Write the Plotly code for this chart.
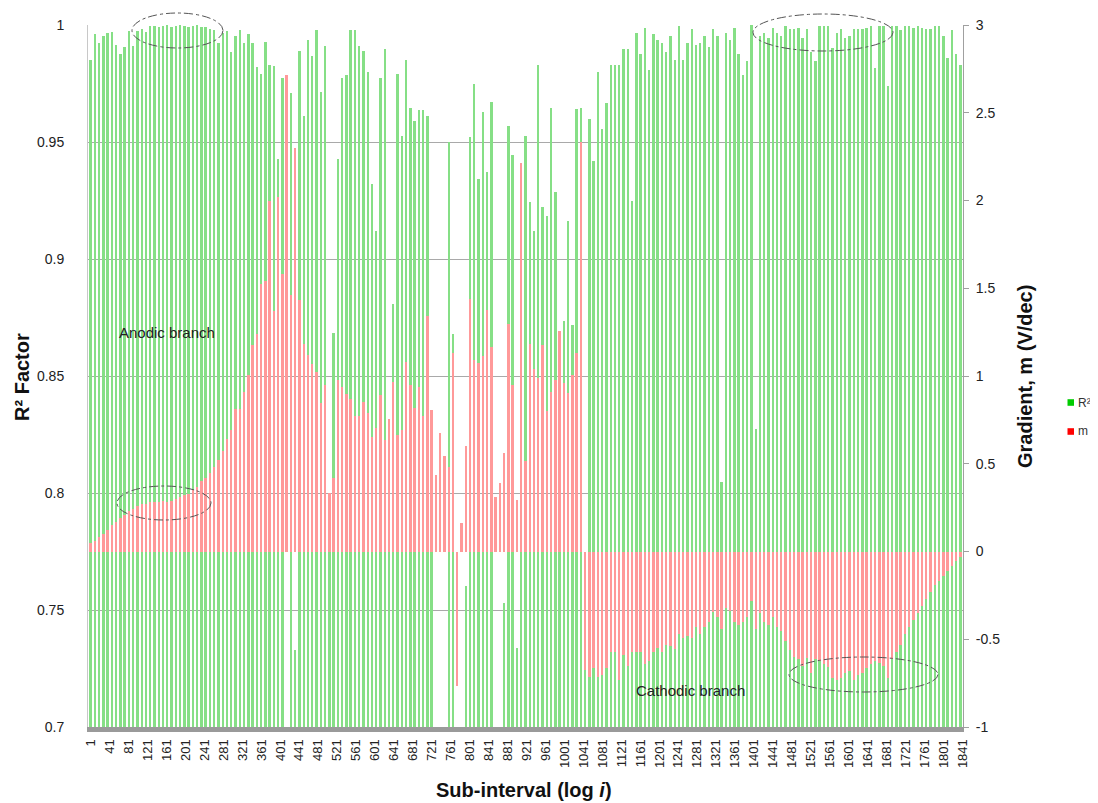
import plotly.graph_objects as go

# ---------------- data ----------------
sub_interval = list(range(1, 1838, 9))  # category positions (sub-interval index)

tick_labels = ["1", "41", "81", "121", "161", "201", "241", "281", "321", "361", "401",
               "441", "481", "521", "561", "601", "641", "681", "721", "761", "801",
               "841", "881", "921", "961", "1001", "1041", "1081", "1121", "1161",
               "1201", "1241", "1281", "1321", "1361", "1401", "1441", "1481", "1521",
               "1561", "1601", "1641", "1681", "1721", "1761", "1801", "1841"]

r2_values = [
    0.985, 0.996, 0.9925, 0.9955, 0.9965, 0.9968, 0.9915, 0.9876, 0.9905, 0.9974,
    0.9909, 0.9974, 0.9984, 0.997, 0.9994, 0.9994, 0.999, 0.9996, 0.9998, 0.9992,
    0.9996, 0.9998, 0.9994, 0.999, 0.9996, 0.9998, 0.9992, 0.999, 0.9985, 0.9978,
    0.9925, 0.9964, 0.9974, 0.9886, 0.9955, 0.998, 0.9921, 0.996, 0.9925, 0.9821,
    0.9792, 0.9928, 0.9827, 0.9823, 0.9429, 0.9773, None, 0.9711, 0.7331, 0.9889,
    0.9613, 0.9938, 0.9866, 0.9979, 0.9715, 0.9912, 0.79, 0.8685, 0.9429, 0.9773,
    0.9788, 0.9979, 0.9979, 0.9909, 0.9889, 0.9798, 0.9322, 0.9118, 0.9773, 0.9898,
    0.7768, 0.8807, 0.9792, 0.9526, 0.985, 0.9647, 0.959, 0.9637, 0.9637, 0.961,
    0.79, None, None, None, 0.9501, 0.8681, None, None, 0.7603, 0.9523,
    0.9746, 0.9341, 0.9629, 0.9371, 0.9672, None, None, 0.7529, 0.957, 0.9444,
    0.7337, 0.93, 0.9526, 0.9244, 0.9118, 0.9827, 0.9221, 0.9182, 0.9647, 0.9287,
    0.86, 0.8735, 0.9161, 0.8716, 0.9643, 0.9647, 0.7253, 0.9598, 0.9419, 0.9801,
    0.9555, 0.9665, 0.9827, 0.9827, 0.9827, 0.9896, 0.9896, 0.9249, 0.9964, 0.9876,
    0.9988, 0.9808, 0.996, 0.9935, 0.9925, 0.9886, 0.9954, 0.9851, 0.9994, 0.9851,
    0.9921, 0.9984, 0.9915, 0.9921, 0.9954, 0.9905, 0.9984, 0.9954, 0.8047, 0.9964,
    0.9935, 0.9988, 0.9876, 0.9788, 0.9847, 1.0, 0.8272, 0.9954, 0.9964, 0.9945,
    0.9988, 0.9964, 0.9954, 0.9994, 0.9984, 0.9984, 0.9988, 0.9945, 0.9984, 0.9886,
    0.9847, 0.9994, 0.9994, 0.9994, 0.9902, 0.9964, 0.9984, 0.9945, 0.9954, 0.9984,
    0.9984, 0.9984, 0.9988, 0.9994, 0.9817, 0.9994, 0.9994, 0.9739, 0.9994, 0.9994,
    0.998, 0.9994, 0.9994, 0.9988, 0.9994, 0.9988, 0.9984, 0.9984, 0.9994, 0.9994,
    0.9954, 0.9857, 0.998, 0.9876, 0.9831,
]

m_values = [
    0.05, 0.06, 0.08, 0.10, 0.12, 0.15, 0.17, 0.19, 0.21, 0.23,
    0.24, 0.26, 0.27, 0.27, 0.28, 0.28, 0.28, 0.29, 0.28, 0.29,
    0.30, 0.31, 0.32, 0.33, 0.35, 0.37, 0.40, 0.42, 0.45, 0.48,
    0.52, 0.57, 0.64, 0.69, 0.813, 0.813, 0.908, 1.005, 1.176, 1.242,
    1.523, 1.544, 2.0, 1.372, 2.018, 1.583, 2.714, 1.464, 2.30, 1.432,
    1.185, 1.12, 1.068, 1.023, 0.846, 0.95, 0.336, 0.417, 0.977, 0.935,
    0.898, 0.867, 0.773, 0.773, 0.852, 0.789, 0.651, 0.703, 0.893, 0.638,
    0.755, 0.964, 0.664, 0.695, 1.081, 0.951, 0.82, 0.9375, 0.773, 1.341,
    0.807, 0.435, 0.677, 0.547, 0.482, 1.133, -0.768, 0.161, 0.599, 1.44,
    1.094, 1.076, 1.112, 1.378, 1.164, 0.3125, 0.39, 0.56, 1.294, 0.951,
    0.292, 2.214, 0.513, 1.185, 1.042, 0.99, 1.177, 0.80, 0.911, 0.977,
    1.255, 0.958, 0.904, 1.003, 1.133, 2.331, -0.677, -0.716, -0.664, -0.716,
    -0.703, -0.664, -0.574, -0.574, -0.73, -0.587, -0.653, -0.574, -0.574, -0.574,
    -0.639, -0.626, -0.574, -0.547, -0.574, -0.534, -0.539, -0.555, -0.468, -0.495,
    -0.482, -0.495, -0.429, -0.468, -0.429, -0.403, -0.345, -0.376, -0.442, -0.324,
    -0.337, -0.403, -0.416, -0.403, -0.376, -0.284, -0.442, -0.35, -0.403, -0.416,
    -0.376, -0.429, -0.455, -0.508, -0.561, -0.6, -0.613, -0.653, -0.608, -0.692,
    -0.613, -0.626, -0.639, -0.66, -0.718, -0.732, -0.718, -0.692, -0.679, -0.732,
    -0.705, -0.692, -0.666, -0.639, -0.626, -0.634, -0.653, -0.718, -0.613, -0.574,
    -0.534, -0.468, -0.429, -0.389, -0.35, -0.31, -0.271, -0.232, -0.192, -0.166,
    -0.139, -0.113, -0.082, -0.055, -0.034,
]

r2_ticks = [0.7, 0.75, 0.8, 0.85, 0.9, 0.95, 1.0]
r2_ticktext = ["0.7", "0.75", "0.8", "0.85", "0.9", "0.95", "1"]
m_ticks = [-1, -0.5, 0, 0.5, 1, 1.5, 2, 2.5, 3]
m_ticktext = ["-1", "-0.5", "0", "0.5", "1", "1.5", "2", "2.5", "3"]

legend_names = ["R²", "m"]
legend_colors = ["#00cc00", "#ff0000"]

assert len(sub_interval) == len(r2_values) == len(m_values)

# ---------------- figure ----------------
FONT = "Liberation Sans, Arial, sans-serif"
GREEN_BAR = "#86df86"
RED_BAR = "#ff9999"

# page body has an 8px default margin, so the figure is 8px smaller and the
# plot area (88..963 x 25..727 on screen) is placed accordingly
PX0, PY1, PW, PH = 88, 727, 875, 702


def px(x):
    return (x - PX0) / PW


def py(y):
    return (PY1 - y) / PH


fig = go.Figure()
fig.add_trace(go.Bar(x=sub_interval, y=r2_values, width=4,
                     marker=dict(color=GREEN_BAR, line=dict(width=0)),
                     name=legend_names[0], showlegend=False, yaxis="y"))
fig.add_trace(go.Bar(x=sub_interval, y=m_values, width=4,
                     marker=dict(color=RED_BAR, line=dict(width=0)),
                     name=legend_names[1], showlegend=False, yaxis="y2"))

fig.update_layout(
    width=1090, height=795,
    margin=dict(l=80, r=135, t=17, b=76, autoexpand=False),
    paper_bgcolor="white", plot_bgcolor="white",
    barmode="overlay", bargap=0, showlegend=False,
    font=dict(family=FONT, size=14, color="#222222"),
    xaxis=dict(type="linear", range=[-4.9, 1842], tickvals=[int(t) for t in tick_labels],
               ticktext=tick_labels, tickangle=-90, tickfont=dict(size=13),
               showgrid=False, zeroline=False, showline=True, linecolor="#9a9a9a",
               linewidth=5, ticks="", ticklabelstandoff=2, automargin=False),
    yaxis=dict(range=[0.7, 1.0], tickvals=r2_ticks, ticktext=r2_ticktext,
               showgrid=True, gridcolor="#a9a9a9", gridwidth=1, zeroline=False,
               showline=True, linecolor="#c8c8c8", ticks="", ticklabelstandoff=20,
               tickfont=dict(size=14), automargin=False),
    yaxis2=dict(range=[-1, 3], tickvals=m_ticks, ticktext=m_ticktext, overlaying="y",
                side="right", showgrid=False, zeroline=False, showline=True,
                linecolor="#a0a0a0", ticks="outside", ticklen=5, tickcolor="#a0a0a0",
                ticklabelstandoff=4, tickfont=dict(size=14), automargin=False),
)

annotations = [
    dict(text="<b>R² Factor</b>", x=px(22), y=py(377), xref="paper", yref="paper",
         xanchor="center", yanchor="middle",
         textangle=-90, showarrow=False, font=dict(size=20, color="#111111")),
    dict(text="<b>Gradient, m (V/dec)</b>", x=px(1025), y=py(377), xref="paper", yref="paper",
         xanchor="center", yanchor="middle",
         textangle=-90, showarrow=False, font=dict(size=20, color="#111111")),
    dict(text="<b>Sub-interval (log <i>i</i>)</b>", x=px(524), y=py(790), xref="paper", yref="paper",
         xanchor="center", yanchor="middle",
         showarrow=False, font=dict(size=20, color="#111111")),
    dict(text="Anodic branch", x=px(117), y=py(332), xref="paper", yref="paper",
         xanchor="left", yanchor="middle", showarrow=False, font=dict(size=15, color="#222222")),
    dict(text="Cathodic branch", x=px(634), y=py(690), xref="paper", yref="paper",
         xanchor="left", yanchor="middle", showarrow=False, font=dict(size=15, color="#222222")),
]
# legend (small squares + labels)
legend_rows = [402.5, 431.5]
for name, yc in zip(legend_names, legend_rows):
    annotations.append(dict(text=name, x=px(1076), y=py(yc), xref="paper", yref="paper",
                            xanchor="left", yanchor="middle", showarrow=False,
                            font=dict(size=12, color="#333333")))
fig.update_layout(annotations=annotations)


def ellipse(x0, x1, y0, y1):
    return dict(type="circle", xref="paper", yref="paper",
                x0=px(x0), x1=px(x1), y0=py(y1), y1=py(y0),
                line=dict(color="#555555", width=1, dash="dashdot"), layer="above")


shapes = [
    ellipse(132, 223, 13, 48),
    ellipse(117, 211, 486, 520),
    ellipse(753, 893, 14, 51),
    ellipse(789, 938, 657, 692),
]
for color, yc in zip(legend_colors, legend_rows):
    shapes.append(dict(type="rect", xref="paper", yref="paper",
                       x0=px(1067.5), x1=px(1074), y0=py(yc + 3.3), y1=py(yc - 3.3),
                       fillcolor=color, line=dict(width=0)))
fig.update_layout(shapes=shapes)

fig.write_html("out.html")
